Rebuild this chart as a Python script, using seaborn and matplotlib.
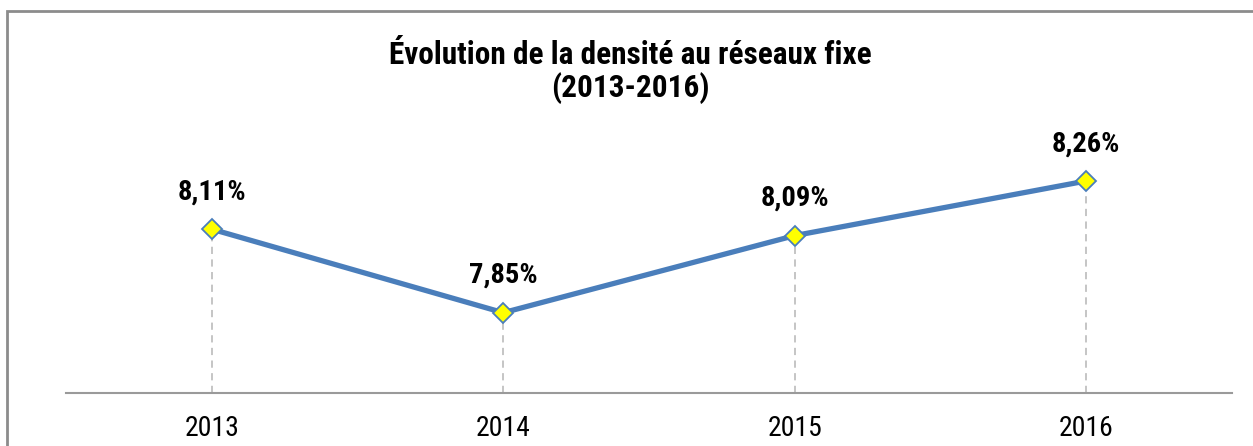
import matplotlib
matplotlib.use("Agg")
import matplotlib.pyplot as plt
import matplotlib.patches as mpatches
import seaborn as sns
import pandas as pd
from matplotlib import font_manager

# Data
years = ["2013", "2014", "2015", "2016"]
density = [8.11, 7.85, 8.09, 8.26]
labels = ["8,11%", "7,85%", "8,09%", "8,26%"]

sns.set_style("white")
names = {f.name for f in font_manager.fontManager.ttflist}
fam = "Liberation Sans"
for cand in ["Liberation Sans Narrow", "Arial Narrow", "Roboto Condensed"]:
    if cand in names:
        fam = cand
        break
plt.rcParams["font.family"] = [fam, "DejaVu Sans"]
plt.rcParams["text.color"] = "black"
plt.rcParams["xtick.color"] = "black"

df = pd.DataFrame({"year": years, "density": density})

fig = plt.figure(figsize=(12.53, 4.46), dpi=100)
ax = fig.add_axes([66 / 1253, 1 - 393 / 446, (1232 - 66) / 1253, (393 - 136) / 446])

# outer frame (right/bottom edges fall outside the image)
fig.patches.append(mpatches.Rectangle((7 / 1253, -0.05), 1.2, 1 - 11 / 446 + 0.05,
                                      transform=fig.transFigure, fill=False,
                                      edgecolor="#8c8c8c", linewidth=2, zorder=0))

x = list(range(len(years)))
# drop lines
ax.vlines(x, 7.6, df["density"], colors="#c0c0c0", linestyles=(0, (4, 3)),
          linewidth=1.3, zorder=1)

sns.lineplot(data=df, x="year", y="density", ax=ax, color="#4a7ebb",
             linewidth=3.8, marker="D", markersize=10, markerfacecolor="#ffff00",
             markeredgecolor="#4a7ebb", markeredgewidth=1.3, zorder=3)

for xi, v, lab in zip(x, density, labels):
    ax.annotate(lab, (xi, v), xytext=(0, 17), textcoords="offset points",
                ha="center", va="bottom", fontsize=20.5, fontweight="bold")

ax.set_xlim(-0.5, 3.5)
ax.set_ylim(7.6, 8.4)
ax.set_yticks([])
ax.set_xlabel("")
ax.set_ylabel("")
for s in ["top", "right", "left"]:
    ax.spines[s].set_visible(False)
ax.spines["bottom"].set_color("#9a9a9a")
ax.spines["bottom"].set_linewidth(1.5)
ax.tick_params(axis="x", length=0, pad=16, labelsize=20)

fig.text(630 / 1253, 1 - 72 / 446, "Évolution de la densité au réseaux fixe\n(2013-2016)",
         ha="center", va="center", fontsize=22.5, fontweight="bold", linespacing=1.1)

fig.savefig("out.png", dpi=100)
